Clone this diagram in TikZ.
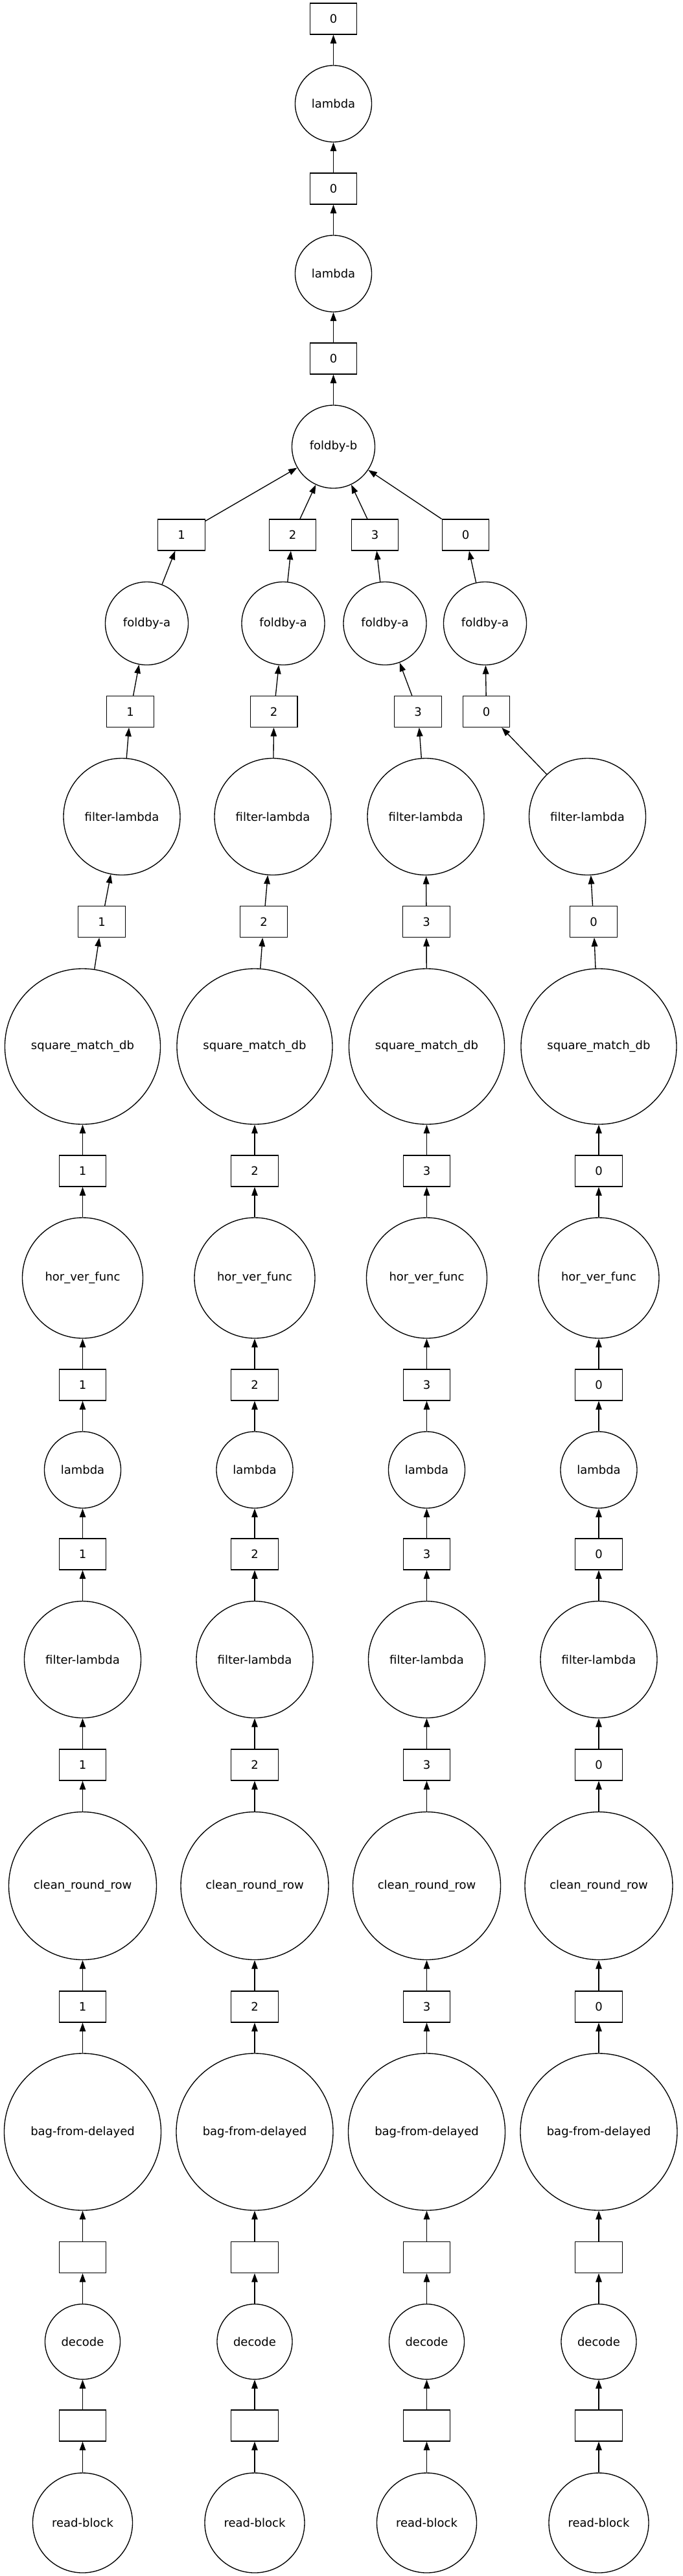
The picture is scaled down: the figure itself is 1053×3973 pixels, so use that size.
\documentclass[tikz,border=0pt]{standalone}
\usepackage{fontspec}
\setmainfont{DejaVu Sans}
\usetikzlibrary{arrows.meta}
\begin{document}
\begin{tikzpicture}[x=1pt,y=-1pt,
  every node/.style={font=\fontsize{18}{21}\selectfont, line width=1.35pt},
  fn/.style={circle,draw,inner sep=0pt,minimum size=#1},
  dbox/.style={rectangle,draw,inner sep=0pt,minimum width=72.5pt,minimum height=48pt},
  edge/.style={draw,line width=1.35pt,-{Triangle[length=13.5pt,width=9.5pt]}}]
\fill[white] (0,0) rectangle (1053,3973);
\useasboundingbox (0,0) rectangle (1053,3973);
% top chain
\node[dbox] (t0) at (514.5,29) {0};
\node[fn=118] (l1) at (514.5,160) {lambda};
\node[dbox] (t2) at (514.5,291) {0};
\node[fn=118] (l3) at (514.5,422) {lambda};
\node[dbox] (t4) at (514.5,553) {0};
\node[fn=128] (fb) at (514.5,689) {foldby-b};
\draw[edge] (fb) -- (t4);
\draw[edge] (t4) -- (l3);
\draw[edge] (l3) -- (t2);
\draw[edge] (t2) -- (l1);
\draw[edge] (l1) -- (t0);
% columns
\foreach \c/\x/\lab/\xa/\xb/\xc/\xd/\xe in {1/127.5/1/157/188/201/226.5/280, 2/393/2/407/421/422.7/437/451.5, 3/658.5/3/658/657/645/594/578.5, 4/924/0/916/906.5/750.5/748.5/718.5}{
  \node[fn=154] (rb-\c) at (\x,3891) {read-block};
  \node[dbox] (b24-\c) at (\x,3741) {};
  \node[fn=116] (dec-\c) at (\x,3611.6) {decode};
  \node[dbox] (b22-\c) at (\x,3481.5) {};
  \node[fn=242] (bfd-\c) at (\x,3288) {bag-from-delayed};
  \node[dbox] (b20-\c) at (\x,3095) {\lab};
  \node[fn=228] (crr-\c) at (\x,2908.5) {clean\_round\_row};
  \node[dbox] (b18-\c) at (\x,2722) {\lab};
  \node[fn=180] (flb-\c) at (\x,2559.5) {filter-lambda};
  \node[dbox] (b16-\c) at (\x,2397) {\lab};
  \node[fn=118] (lam-\c) at (\x,2267) {lambda};
  \node[dbox] (b14-\c) at (\x,2136) {\lab};
  \node[fn=186] (hvf-\c) at (\x,1971) {hor\_ver\_func};
  \node[dbox] (b12-\c) at (\x,1806) {\lab};
  \node[fn=240] (smd-\c) at (\x,1614) {square\_match\_db};
  \node[dbox] (b10-\c) at (\xa,1421.5) {\lab};
  \node[fn=180] (fla-\c) at (\xb,1259.5) {filter-lambda};
  \node[dbox] (b8-\c) at (\xc,1097.5) {\lab};
  \node[fn=128] (fa-\c) at (\xd,961.5) {foldby-a};
  \node[dbox] (b6-\c) at (\xe,825) {\lab};
  \draw[edge] (rb-\c) -- (b24-\c);
  \draw[edge] (b24-\c) -- (dec-\c);
  \draw[edge] (dec-\c) -- (b22-\c);
  \draw[edge] (b22-\c) -- (bfd-\c);
  \draw[edge] (bfd-\c) -- (b20-\c);
  \draw[edge] (b20-\c) -- (crr-\c);
  \draw[edge] (crr-\c) -- (b18-\c);
  \draw[edge] (b18-\c) -- (flb-\c);
  \draw[edge] (flb-\c) -- (b16-\c);
  \draw[edge] (b16-\c) -- (lam-\c);
  \draw[edge] (lam-\c) -- (b14-\c);
  \draw[edge] (b14-\c) -- (hvf-\c);
  \draw[edge] (hvf-\c) -- (b12-\c);
  \draw[edge] (b12-\c) -- (smd-\c);
  \draw[edge] (smd-\c) -- (b10-\c);
  \draw[edge] (b10-\c) -- (fla-\c);
  \draw[edge] (fla-\c) -- (b8-\c);
  \draw[edge] (b8-\c) -- (fa-\c);
  \draw[edge] (fa-\c) -- (b6-\c);
  \draw[edge] (b6-\c) -- (fb);
}
\end{tikzpicture}
\end{document}
